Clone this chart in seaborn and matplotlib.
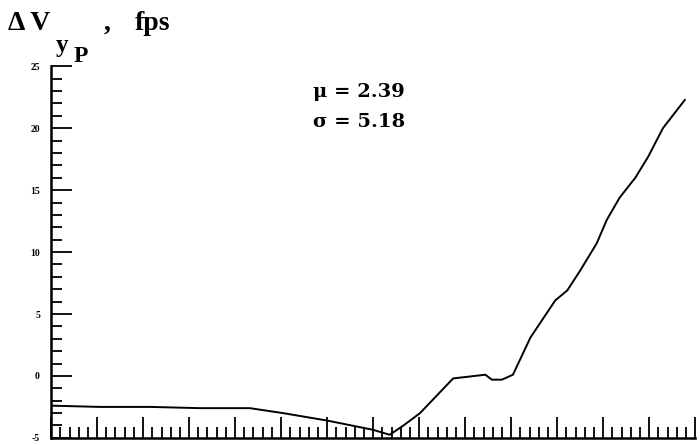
import numpy as np
import pandas as pd
import matplotlib.pyplot as plt
import seaborn as sns
from matplotlib.ticker import MultipleLocator

sns.set_style('white')
plt.rcParams['font.family'] = ['Liberation Serif', 'DejaVu Serif']
plt.rcParams['text.color'] = 'black'
plt.rcParams['ytick.color'] = 'black'
plt.rcParams['xtick.color'] = 'black'

# values (x in arbitrary units, y in fps)
x_vals = [0.1, 5.3, 10.8, 16.2, 21.6, 25.2, 30.0, 35.0, 36.8, 38.3, 40.1,
          43.7, 47.2, 47.9, 49.0, 50.2, 52.1, 54.8, 56.1, 57.5, 59.3, 60.4,
          61.8, 63.5, 64.9, 66.5, 68.9]
dv_vals = [-2.4, -2.5, -2.5, -2.6, -2.6, -3.0, -3.6, -4.35, -4.75, -4.0, -3.0,
           -0.2, 0.1, -0.3, -0.3, 0.1, 3.1, 6.1, 6.9, 8.5, 10.7, 12.6,
           14.4, 16.0, 17.7, 20.0, 22.3]
y_ticks = [-5, 0, 5, 10, 15, 20, 25]
mu, sigma = 2.39, 5.18

df = pd.DataFrame({'x': x_vals, 'dv': dv_vals})

fig = plt.figure(figsize=(7, 4.45), dpi=100)
ax = fig.add_axes([0.073, 0.016, 0.920, 0.835])

sns.lineplot(data=df, x='x', y='dv', ax=ax, color='black', linewidth=1.4)

ax.set_xlim(0, 70)
ax.set_ylim(-5, 25)
ax.xaxis.set_major_locator(MultipleLocator(5))
ax.xaxis.set_minor_locator(MultipleLocator(1))
ax.set_yticks(y_ticks)
ax.yaxis.set_minor_locator(MultipleLocator(1))
ax.set_yticklabels([str(t) for t in y_ticks], fontsize=7, fontweight='bold')
ax.set_xticklabels([])
ax.tick_params(axis='both', which='major', direction='in', length=15,
               width=1.3, color='black')
ax.tick_params(axis='both', which='minor', direction='in', length=8,
               width=1.3, color='black')
ax.tick_params(axis='y', which='major', pad=8)
ax.tick_params(left=True, bottom=True, which='both')

for side in ['top', 'right']:
    ax.spines[side].set_visible(False)
for side in ['left', 'bottom']:
    ax.spines[side].set_color('black')
    ax.spines[side].set_linewidth(1.8)
ax.set_xlabel('')
ax.set_ylabel('')

# axis title, drawn in pieces to get the stacked subscripts
fig.text(8 / 700, 1 - 30 / 445, '\u0394 V', fontsize=20, fontweight='bold')
fig.text(56 / 700, 1 - 52 / 445, 'y', fontsize=18, fontweight='bold')
fig.text(74 / 700, 1 - 62 / 445, 'P', fontsize=17, fontweight='bold')
fig.text(104 / 700, 1 - 30 / 445, ',', fontsize=20, fontweight='bold')
fig.text(135 / 700, 1 - 30 / 445, 'fps', fontsize=20, fontweight='bold')

ax.text(0.447, 1 - 97 / 445, f'\u03bc = {mu:.2f}', transform=fig.transFigure,
        fontsize=14, fontweight='bold', family=['DejaVu Serif'])
ax.text(0.447, 1 - 127 / 445, f'\u03c3 = {sigma:.2f}', transform=fig.transFigure,
        fontsize=14, fontweight='bold', family=['DejaVu Serif'])

fig.savefig('out.png', dpi=100)
